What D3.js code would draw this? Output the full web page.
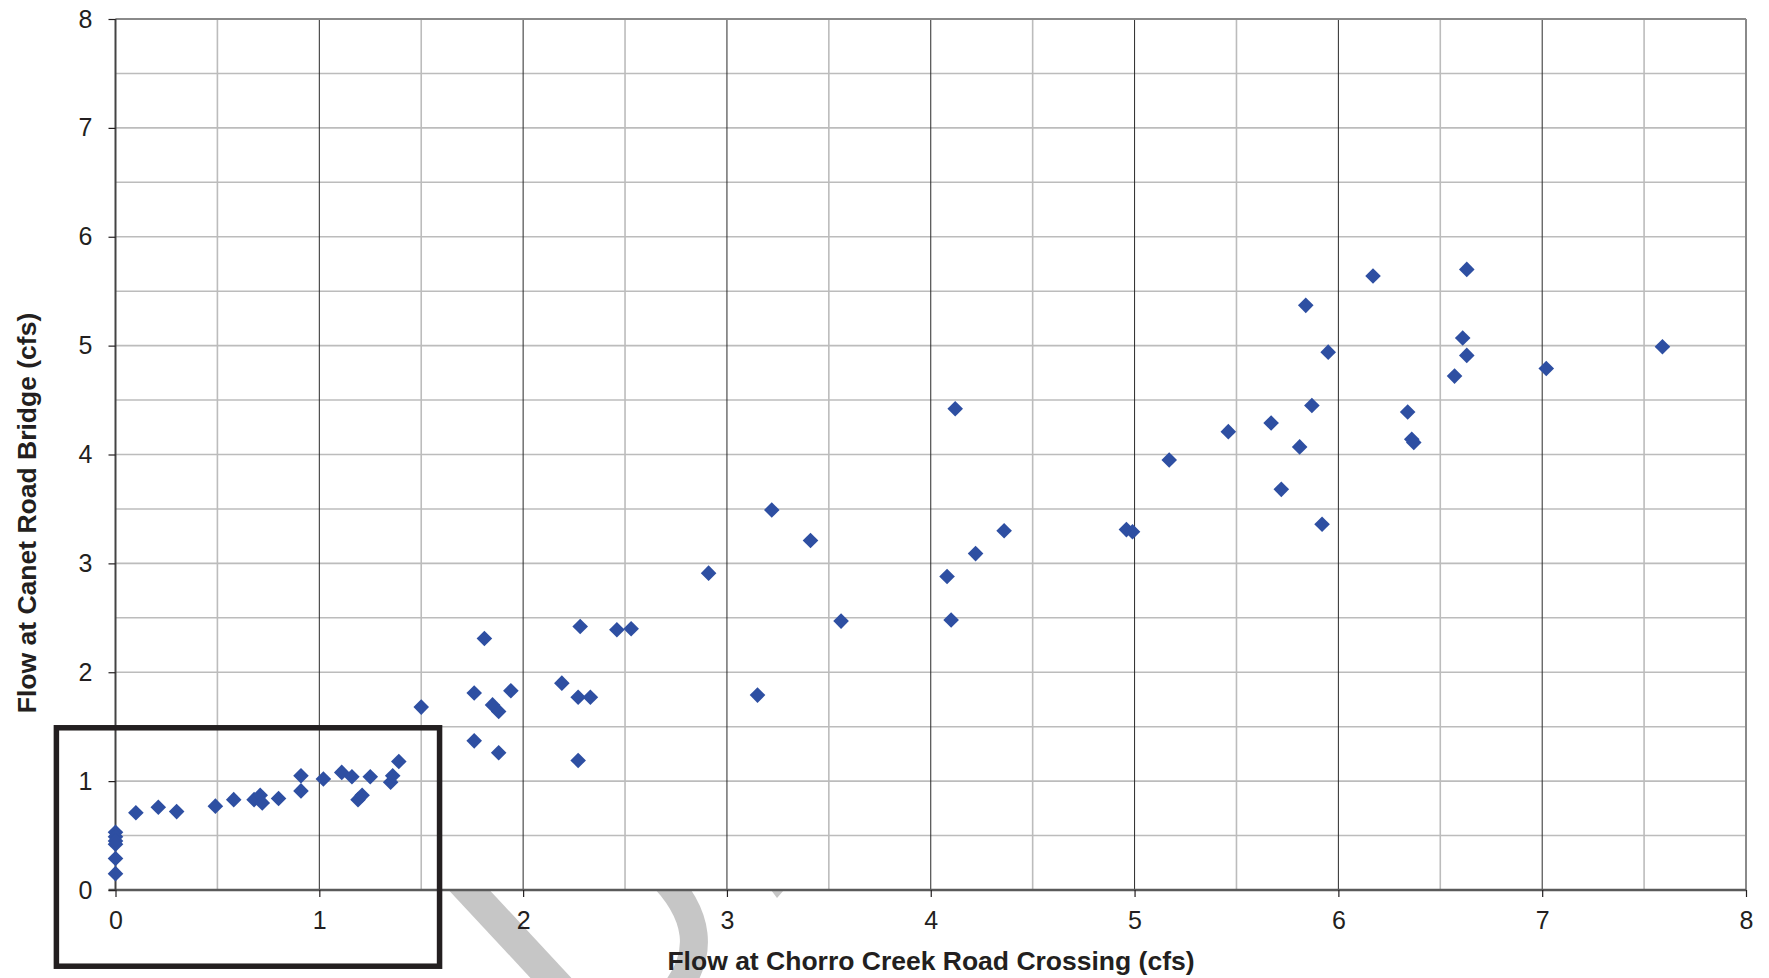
<!DOCTYPE html>
<html>
<head>
<meta charset="utf-8">
<script src="https://cdn.jsdelivr.net/npm/d3@7"></script>
<style>
  html, body { margin: 0; padding: 0; background: #fff; }
  svg { display: block; }
  text { font-family: "Liberation Sans", Arial, Helvetica, sans-serif; fill: #231f20; }
</style>
</head>
<body>
<svg id="chart" width="1769" height="978"></svg>
<script>
// Flow at Chorro Creek Road Crossing (cfs)
const chorroFlow = [
  0, 0, 0, 0, 0, 0,
  0.10, 0.21, 0.30, 0.49, 0.58, 0.68, 0.71, 0.72, 0.80, 0.91, 0.91,
  1.02, 1.11, 1.16, 1.19, 1.21, 1.25, 1.35, 1.36, 1.39,
  1.50, 1.76, 1.81, 1.76, 1.85, 1.88, 1.94, 1.88,
  2.19, 2.27, 2.33, 2.28, 2.27, 2.46, 2.53, 2.91,
  3.15, 3.22, 3.41, 3.56,
  4.08, 4.10, 4.12, 4.22, 4.36, 4.96, 4.99,
  5.17, 5.46, 5.67, 5.72, 5.81, 5.84, 5.87, 5.92, 5.95,
  6.17, 6.34, 6.36, 6.37, 6.57, 6.61, 6.63, 6.63,
  7.02, 7.59
];
// Flow at Canet Road Bridge (cfs)
const canetFlow = [
  0.53, 0.49, 0.45, 0.42, 0.29, 0.15,
  0.71, 0.76, 0.72, 0.77, 0.83, 0.83, 0.87, 0.80, 0.84, 1.05, 0.91,
  1.02, 1.08, 1.04, 0.83, 0.87, 1.04, 0.99, 1.05, 1.18,
  1.68, 1.81, 2.31, 1.37, 1.70, 1.64, 1.83, 1.26,
  1.90, 1.77, 1.77, 2.42, 1.19, 2.39, 2.40, 2.91,
  1.79, 3.49, 3.21, 2.47,
  2.88, 2.48, 4.42, 3.09, 3.30, 3.31, 3.29,
  3.95, 4.21, 4.29, 3.68, 4.07, 5.37, 4.45, 3.36, 4.94,
  5.64, 4.39, 4.14, 4.11, 4.72, 5.07, 5.70, 4.91,
  4.79, 4.99
];
const xTicks = [0, 1, 2, 3, 4, 5, 6, 7, 8];
const yTicks = [0, 1, 2, 3, 4, 5, 6, 7, 8];
const gridStep = [0, 0.5, 1, 1.5, 2, 2.5, 3, 3.5, 4, 4.5, 5, 5.5, 6, 6.5, 7, 7.5, 8];
// highlighted region (data units)
const boxX = [-0.29, 1.59];
const boxY = [-0.70, 1.49];

const xLabel = "Flow at Chorro Creek Road Crossing (cfs)";
const yLabel = "Flow at Canet Road Bridge (cfs)";

const svg = d3.select("#chart");
const pLeft = 115.5, pRight = 1746, pTop = 19, pBottom = 890;
const x = d3.scaleLinear().domain([0, 8]).range([pLeft, pRight]);
const y = d3.scaleLinear().domain([0, 8]).range([pBottom, pTop]);

// watermark fragments (behind plot area)
const wm = svg.append("g").attr("fill", "none").attr("stroke", "#c6c6c6");
wm.append("line").attr("x1", 430).attr("y1", 848).attr("x2", 590).attr("y2", 1020).attr("stroke-width", 30);
wm.append("path").attr("d", "M 658 872 Q 722 935 672 995").attr("stroke-width", 28);
svg.append("path").attr("d", "M 771 890 L 784 890 L 777 898 Z").attr("fill", "#c6c6c6");

// plot background
svg.append("rect").attr("x", pLeft).attr("y", pTop).attr("width", pRight - pLeft).attr("height", pBottom - pTop).attr("fill", "#fff");

// horizontal gridlines
svg.append("g").selectAll("line").data(gridStep.slice(1)).join("line")
  .attr("x1", pLeft).attr("x2", pRight)
  .attr("y1", d => y(d)).attr("y2", d => y(d))
  .attr("stroke", "#bcbcbc").attr("stroke-width", 1.6);

// vertical gridlines
svg.append("g").selectAll("line").data(gridStep.slice(1, -1)).join("line")
  .attr("y1", pTop).attr("y2", pBottom)
  .attr("x1", d => x(d)).attr("x2", d => x(d))
  .attr("stroke", d => Number.isInteger(d) ? "#2a2a2a" : "#bcbcbc")
  .attr("stroke-width", d => Number.isInteger(d) ? 1 : 1.6);

// top & right border
svg.append("line").attr("x1", pLeft).attr("x2", pRight).attr("y1", pTop).attr("y2", pTop).attr("stroke", "#8a8a8a").attr("stroke-width", 2);
svg.append("line").attr("x1", pRight).attr("x2", pRight).attr("y1", pTop).attr("y2", pBottom).attr("stroke", "#8a8a8a").attr("stroke-width", 2);

// axes
const xAxis = d3.axisBottom(x).tickValues(xTicks).tickFormat(d3.format("d")).tickSize(7).tickPadding(14);
const yAxis = d3.axisLeft(y).tickValues(yTicks).tickFormat(d3.format("d")).tickSize(7).tickPadding(16);

const gx = svg.append("g").attr("transform", `translate(0,${pBottom})`).call(xAxis);
gx.select(".domain").attr("stroke", "#5a5a5a").attr("stroke-width", 2.5).attr("d", `M${pLeft - 7},0H${pRight}`);
gx.selectAll(".tick line").attr("stroke", "#231f20").attr("stroke-width", 1.2);
gx.selectAll(".tick text").attr("font-size", 25).attr("fill", "#231f20")
  .attr("font-family", "Liberation Sans, Arial, sans-serif");

const gy = svg.append("g").attr("transform", `translate(${pLeft},0)`).call(yAxis);
gy.select(".domain").attr("stroke", "#444").attr("stroke-width", 2).attr("d", `M0,${pTop}V${pBottom}`);
gy.selectAll(".tick line").attr("stroke", "#231f20").attr("stroke-width", 1.2);
gy.selectAll(".tick text").attr("font-size", 25).attr("fill", "#231f20")
  .attr("font-family", "Liberation Sans, Arial, sans-serif");

// points
const pts = chorroFlow.map((v, i) => [v, canetFlow[i]]);
const r = 7.8;
svg.append("g").selectAll("path").data(pts).join("path")
  .attr("transform", d => `translate(${x(d[0])},${y(d[1])})`)
  .attr("d", `M0,${-r}L${r},0L0,${r}L${-r},0Z`)
  .attr("fill", "#2e4fa2");

// highlight box
svg.append("rect")
  .attr("x", x(boxX[0])).attr("y", y(boxY[1]))
  .attr("width", x(boxX[1]) - x(boxX[0])).attr("height", y(boxY[0]) - y(boxY[1]))
  .attr("fill", "none").attr("stroke", "#231f20").attr("stroke-width", 5.5);

// axis titles
svg.append("text").attr("x", 931).attr("y", 970)
  .attr("text-anchor", "middle").attr("font-size", 26.5).attr("font-weight", "bold")
  .text(xLabel);

svg.append("text").attr("transform", "translate(36,513) rotate(-90)")
  .attr("text-anchor", "middle").attr("font-size", 26.5).attr("font-weight", "bold")
  .text(yLabel);
</script>
</body>
</html>
